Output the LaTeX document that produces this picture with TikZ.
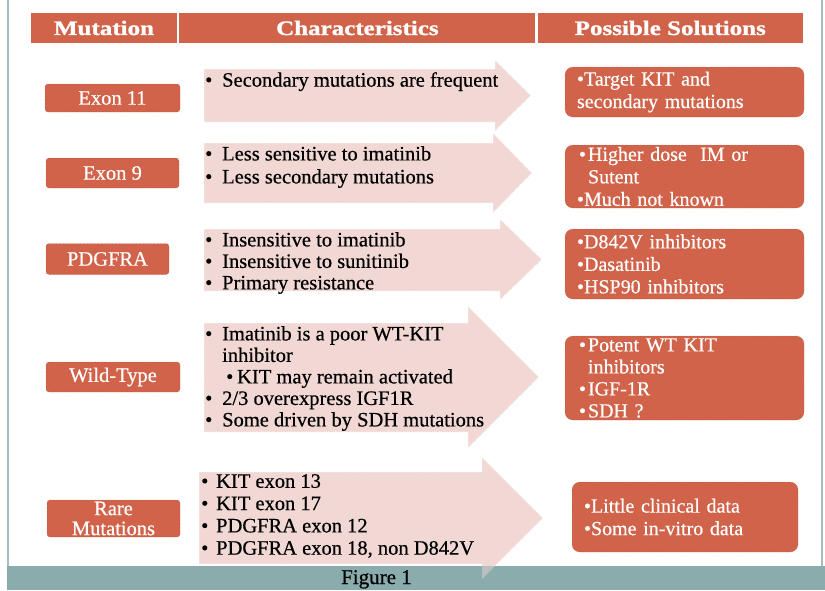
\documentclass[tikz,border=0pt]{standalone}
\usepackage{fontspec}
\setmainfont{Liberation Serif}[FakeBold=0.5]
\newfontfamily\headfont[FakeStretch=1.22,FakeBold=1.2]{Liberation Serif}
\usepackage{tikz}
\usetikzlibrary{positioning}

\definecolor{rust}{RGB}{208,99,74}
\definecolor{blush}{RGB}{241,216,212}
\definecolor{slate}{RGB}{138,172,172}
\definecolor{rim}{RGB}{168,190,190}

\newcommand{\itm}[1][17pt]{\makebox[#1][l]{\textbullet}}
\newcommand{\cnt}{\hspace*{17pt}}
% big pink arrow: left, body top, body bottom, head base, head top, head bottom, tip
\newcommand{\chev}[8][]{\path[chev,#1] (#2,#3) -- (#5,#3) -- (#5,#6) -- (#8,{(#6+#7)/2}) -- (#5,#7) -- (#5,#4) -- (#2,#4) -- cycle;}

\begin{document}
\begin{tikzpicture}[
      x=1pt,y=-1pt,
      head/.style={fill=rust,text=white,font=\headfont\fontsize{20.5}{22}\selectfont\bfseries,minimum height=30,inner sep=0},
      mut/.style={fill=rust,text=white,rounded corners=3,draw=rust!75!black,densely dotted,font=\fontsize{20.5}{20}\selectfont,inner sep=0,align=center},
      sol/.style={fill=rust,text=white,rounded corners=8,draw=rust!75!black,densely dotted,font=\fontsize{20}{22.5}\selectfont,inner xsep=12,inner ysep=0,align=left},
      chev/.style={fill=blush,draw=white,densely dotted,line width=.8},
      note/.style={anchor=north west,inner sep=0,align=left,font=\fontsize{20.5}{21.5}\selectfont}
    ]
    \useasboundingbox (0,0) rectangle (825,590);

    % frame
    \draw[rim,line width=1.5] (8,0) -- (8,566);
    \draw[rim,line width=1.5] (822,0) -- (822,566);

    % header row
    \node[head,minimum width=146] (hmut) at (104,28) {Mutation};
    \node[head,minimum width=356,right=2pt of hmut] (hchar) {Characteristics};
    \node[head,minimum width=265,right=2pt of hchar] (hsol) {Possible Solutions};

    % arrows
    \chev{204}{69}{122}{495}{60}{131}{531}
    \chev{204}{143}{203}{493}{133}{213}{532}
    \chev{204}{229}{291}{500}{219}{300}{542}
    \chev{204}{323}{432}{468}{306}{448}{539}
    \chev{199}{472}{564}{482}{457}{579}{543}

    % mutations
    \node[mut,minimum width=135,minimum height=28] (exon11) at (112.5,98) {Exon 11};
    \node[mut,minimum width=133,minimum height=30] (exon9) at (112.5,173) {Exon 9};
    \node[mut,minimum width=123,minimum height=31] (pdgfra) at (107.5,259) {PDGFRA};
    \node[mut,minimum width=134,minimum height=30] (wild) at (113,377) {Wild-Type};
    \node[mut,minimum width=133,minimum height=37] (rare) at (113.5,518.5) {Rare\\Mutations};

    % characteristics
    \node[note] (t11) at (205,72) {\itm Secondary mutations are frequent};
    \node[note,font=\fontsize{20.5}{23}\selectfont] (t9) at (205,146)
      {\itm Less sensitive to imatinib\\\itm Less secondary mutations};
    \node[note] (tpd) at (205,232)
      {\itm Insensitive to imatinib\\\itm Insensitive to sunitinib\\\itm Primary resistance};
    \node[note] (twt) at (205,326)
      {\itm Imatinib is a poor WT-KIT\\\cnt inhibitor\\
       \hspace*{21pt}\itm[11pt]KIT may remain activated\\
       \itm 2/3 overexpress IGF1R\\\itm Some driven by SDH mutations};
    \node[note,font=\fontsize{20.5}{22.3}\selectfont] (trare) at (201,474)
      {\itm[15pt]KIT exon 13\\\itm[15pt]KIT exon 17\\\itm[15pt]PDGFRA exon 12\\
       \itm[15pt]PDGFRA exon 18, non D842V};

    % solutions
    \node[sol,text width=215,minimum height=50] (s11) at (684.5,92)
      {\textbullet Target KIT and\\secondary mutations};
    \node[sol,text width=215,minimum height=63] (s9) at (684.5,176.5)
      {\hspace*{2pt}\textbullet\hspace{2pt}Higher dose\ \ IM or\\\hspace*{11pt}Sutent\\\textbullet Much not known};
    \node[sol,text width=215,minimum height=70] (spd) at (684.5,264)
      {\textbullet D842V inhibitors\\\textbullet Dasatinib\\\textbullet HSP90 inhibitors};
    \node[sol,text width=215,minimum height=84,font=\fontsize{20}{22}\selectfont] (swt) at (684.5,378)
      {\hspace*{2pt}\textbullet\hspace{2pt}Potent WT KIT\\\hspace*{11pt}inhibitors\\
       \hspace*{2pt}\textbullet\hspace{2pt}IGF-1R\\\hspace*{2pt}\textbullet\hspace{2pt}SDH ?};
    \node[sol,text width=202,minimum height=70] (srare) at (685,517)
      {\textbullet Little clinical data\\\textbullet Some in-vitro data};

    % caption bar
    \fill[slate] (7,566) rectangle (825,590);
    \begin{scope}
      \clip (7,566) rectangle (825,590);
      \chev[draw=none,fill opacity=.45]{199}{472}{564}{482}{457}{579}{543}
    \end{scope}
    \node[font=\fontsize{21}{21}\selectfont,anchor=base,inner sep=0] (fig) at (376.5,584) {Figure 1};
\end{tikzpicture}
\end{document}
